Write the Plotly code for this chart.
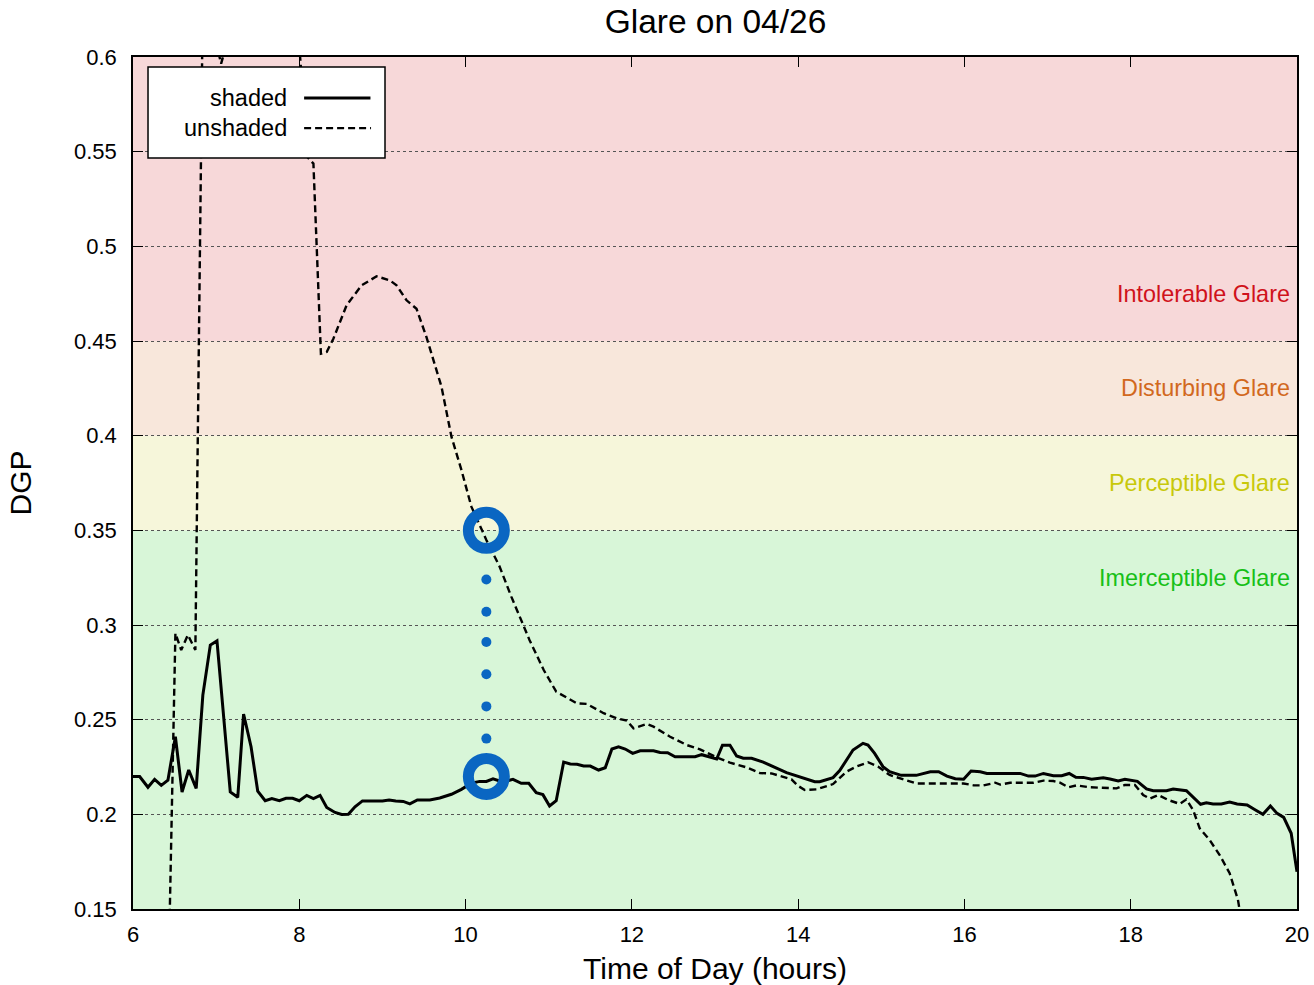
import plotly.graph_objects as go

# shaded DGP readings (hour of day, value)
shaded_hours = [6.0, 6.08, 6.18, 6.26, 6.34, 6.42, 6.51, 6.59, 6.67, 6.76,
                6.84, 6.93, 7.01, 7.09, 7.17, 7.26, 7.33, 7.42, 7.50, 7.59,
                7.67, 7.76, 7.84, 7.92, 8.0, 8.09, 8.17, 8.25, 8.33, 8.43,
                8.51, 8.59, 8.67, 8.76, 9.0, 9.08, 9.16, 9.25, 9.33, 9.42,
                9.57, 9.69, 9.83, 9.95, 10.07, 10.17, 10.25, 10.33, 10.41, 10.49,
                10.57, 10.67, 10.76, 10.85, 10.93, 11.01, 11.09, 11.18, 11.26, 11.34,
                11.42, 11.50, 11.60, 11.68, 11.76, 11.84, 11.92, 12.01, 12.10, 12.26,
                12.34, 12.43, 12.52, 12.76, 12.84, 13.02, 13.09, 13.18, 13.26, 13.34,
                13.44, 13.58, 13.68, 13.76, 13.86, 14.0, 14.10, 14.20, 14.26, 14.42,
                14.50, 14.58, 14.66, 14.78, 14.84, 14.92, 15.02, 15.10, 15.24, 15.42,
                15.59, 15.69, 15.79, 15.89, 15.99, 16.08, 16.19, 16.27, 16.67, 16.77,
                16.85, 16.95, 17.07, 17.17, 17.26, 17.34, 17.43, 17.53, 17.67, 17.75,
                17.85, 17.93, 18.08, 18.19, 18.27, 18.43, 18.51, 18.67, 18.75, 18.84,
                18.91, 18.99, 19.09, 19.19, 19.28, 19.40, 19.50, 19.59, 19.68, 19.76,
                19.84, 19.93, 20.0]
shaded_dgp = [0.220, 0.220, 0.2143, 0.2185, 0.2153, 0.218, 0.241, 0.2118, 0.2234, 0.2137,
              0.263, 0.2894, 0.2916, 0.2533, 0.2118, 0.209, 0.253, 0.2357, 0.2123, 0.2072,
              0.2083, 0.2072, 0.2085, 0.2085, 0.2072, 0.210, 0.2083, 0.210, 0.2036, 0.201,
              0.1999, 0.200, 0.204, 0.2071, 0.2071, 0.2076, 0.207, 0.2068, 0.2055, 0.2076,
              0.2076, 0.2086, 0.2106, 0.2132, 0.2164, 0.2174, 0.2174, 0.2187, 0.2176, 0.2176,
              0.2185, 0.2164, 0.2164, 0.2114, 0.2104, 0.2044, 0.2072, 0.2276, 0.2266, 0.2264,
              0.2255, 0.2255, 0.2234, 0.2246, 0.2345, 0.2356, 0.2345, 0.2322, 0.2336, 0.2336,
              0.2327, 0.2325, 0.2304, 0.2304, 0.2315, 0.2292, 0.2365, 0.2365, 0.2308, 0.2296,
              0.2296, 0.2276, 0.2254, 0.224, 0.222, 0.2199, 0.2187, 0.2172, 0.2172, 0.2194,
              0.2231, 0.2287, 0.234, 0.2375, 0.2366, 0.2322, 0.2252, 0.2225, 0.2206, 0.2206,
              0.2225, 0.2225, 0.2202, 0.2188, 0.2185, 0.2229, 0.2225, 0.2216, 0.2216, 0.2202,
              0.2202, 0.2216, 0.2204, 0.2204, 0.2216, 0.2196, 0.2195, 0.2185, 0.2193, 0.2187,
              0.2176, 0.2185, 0.2174, 0.2134, 0.2125, 0.2125, 0.2134, 0.2125, 0.2093, 0.2053,
              0.2061, 0.2055, 0.2055, 0.2065, 0.2055, 0.2049, 0.2023, 0.2000, 0.2044, 0.2005,
              0.1984, 0.1900, 0.1697]

# unshaded DGP readings
unshaded_hours = [6.42, 6.51, 6.58, 6.66, 6.75, 6.84, 6.92, 7.01, 7.06, 7.12,
                  7.17, 7.26, 7.42, 7.59, 7.76, 7.92, 8.01, 8.10, 8.17, 8.26, 8.33,
                  8.41, 8.57, 8.75, 8.93, 9.09, 9.17, 9.29, 9.41, 9.53, 9.65,
                  9.71, 9.83, 9.95, 10.07, 10.25, 10.41, 10.55, 10.77, 10.94, 11.09,
                  11.34, 11.46, 11.66, 11.82, 11.94, 12.02, 12.18, 12.26, 12.46, 12.66,
                  12.82, 13.02, 13.18, 13.38, 13.54, 13.68, 13.92, 14.0, 14.08, 14.22,
                  14.42, 14.58, 14.70, 14.84, 14.96, 15.10, 15.26, 15.42, 15.99, 16.11,
                  16.23, 16.37, 16.43, 16.55, 16.83, 16.95, 17.07, 17.15, 17.25, 17.35,
                  17.51, 17.83, 17.93, 18.05, 18.15, 18.23, 18.33, 18.45, 18.59, 18.67,
                  18.75, 18.83, 18.95, 19.07, 19.19, 19.29, 19.42]
unshaded_dgp = [0.10, 0.2956, 0.2868, 0.2947, 0.2868, 0.632, 0.622, 0.606, 0.5965, 0.606,
                0.616, 0.622, 0.625, 0.625, 0.622, 0.618, 0.60, 0.547, 0.5437, 0.4433, 0.4442,
                0.4512, 0.469, 0.4794, 0.4842, 0.482, 0.4794, 0.4715, 0.467, 0.452, 0.4338,
                0.4259, 0.3995, 0.3819, 0.3625, 0.3449, 0.3308, 0.315, 0.292, 0.2762, 0.2648,
                0.2586, 0.2583, 0.2534, 0.2507, 0.2495, 0.2454, 0.2477, 0.2463, 0.241, 0.2366,
                0.2343, 0.2301, 0.2273, 0.2248, 0.2218, 0.2216, 0.2185, 0.215, 0.2129, 0.2132,
                0.216, 0.2225, 0.2252, 0.2275, 0.2252, 0.2208, 0.2185, 0.2163, 0.2163, 0.2153,
                0.2153, 0.2167, 0.2157, 0.2167, 0.2167, 0.2178, 0.2176, 0.2167, 0.2143, 0.2153,
                0.2143, 0.2137, 0.2155, 0.2155, 0.2102, 0.2083, 0.2102, 0.2076, 0.2055, 0.2079,
                0.2023, 0.1926, 0.1864, 0.1785, 0.1689, 0.1548, 0.12]

# highlighted drop at ~10:15
mark_hours = [10.25, 10.25]
mark_dgp = [0.35, 0.22]
dot_hours = [10.25, 10.25, 10.25, 10.25, 10.25, 10.25]
dot_dgp = [0.324, 0.307, 0.291, 0.274, 0.257, 0.240]

# glare bands
band_low = [0.15, 0.35, 0.40, 0.45]
band_high = [0.35, 0.40, 0.45, 0.60]
band_names = ["Imerceptible Glare", "Perceptible Glare", "Disturbing Glare", "Intolerable Glare"]
band_label_y = [0.325, 0.375, 0.425, 0.475]
band_fill = ["#d8f6d8", "#f6f6da", "#f8e7db", "#f7d8d9"]
band_text = ["#17c017", "#c8c80a", "#d2691e", "#d0121b"]

blue = "#0a66c2"
font = "Liberation Sans, Arial, sans-serif"
dashed = "7px,4px"

fig = go.Figure()

fig.add_trace(go.Scatter(x=shaded_hours, y=shaded_dgp, mode="lines", name="shaded",
                         line=dict(color="black", width=3), showlegend=False))
fig.add_trace(go.Scatter(x=unshaded_hours, y=unshaded_dgp, mode="lines", name="unshaded",
                         line=dict(color="black", width=2.4, dash=dashed), showlegend=False))
fig.add_trace(go.Scatter(x=dot_hours, y=dot_dgp, mode="markers", showlegend=False,
                         marker=dict(color=blue, size=10)))
fig.add_trace(go.Scatter(x=mark_hours, y=mark_dgp, mode="markers", showlegend=False,
                         marker=dict(symbol="circle-open", color=blue, size=36,
                                     line=dict(color=blue, width=11))))

shapes = []
for lo, hi, col in zip(band_low, band_high, band_fill):
    shapes.append(dict(type="rect", xref="x domain", yref="y", x0=0, x1=1, y0=lo, y1=hi,
                       fillcolor=col, line=dict(width=0), layer="below"))

# legend box drawn by hand so the sample sits right of the text
shapes.append(dict(type="rect", xref="paper", yref="paper", x0=0.0129, x1=0.2165,
                   y0=0.8815, y1=0.9883, fillcolor="white",
                   line=dict(color="black", width=1.5), layer="above"))
shapes.append(dict(type="line", xref="paper", yref="paper", x0=0.147, x1=0.204,
                   y0=0.952, y1=0.952, line=dict(color="black", width=3), layer="above"))
shapes.append(dict(type="line", xref="paper", yref="paper", x0=0.147, x1=0.2045,
                   y0=0.9165, y1=0.9165, line=dict(color="black", width=2.2, dash=dashed),
                   layer="above"))

annotations = []
for name, y, col in zip(band_names, band_label_y, band_text):
    annotations.append(dict(text=name, xref="paper", yref="y", x=0.9955, y=y,
                            xanchor="right", yanchor="middle", showarrow=False,
                            font=dict(family=font, size=23.4, color=col)))
annotations.append(dict(text="shaded", xref="paper", yref="paper", x=0.134, y=0.952,
                        xanchor="right", yanchor="middle", showarrow=False,
                        font=dict(family=font, size=23.5, color="black")))
annotations.append(dict(text="unshaded", xref="paper", yref="paper", x=0.134, y=0.9165,
                        xanchor="right", yanchor="middle", showarrow=False,
                        font=dict(family=font, size=23.5, color="black")))

fig.update_layout(
    width=1314, height=985,
    margin=dict(l=133, r=17, t=57, b=76),
    paper_bgcolor="white", plot_bgcolor="white",
    font=dict(family=font, size=22, color="black"),
    title=dict(text="Glare on 04/26", x=0.5445, xanchor="center", y=0.978, yanchor="middle",
               font=dict(family=font, size=33.5, color="black")),
    shapes=shapes, annotations=annotations,
    xaxis=dict(range=[6, 20], dtick=2, tick0=6, showgrid=False, zeroline=False,
               showline=True, linecolor="black", linewidth=1.5, mirror="ticks",
               ticks="inside", ticklen=10, tickcolor="black", ticklabelstandoff=5,
               automargin=False,
               title=dict(text="Time of Day (hours)", standoff=13,
                          font=dict(family=font, size=30))),
    yaxis=dict(range=[0.15, 0.6], dtick=0.05, tick0=0.15, showgrid=True,
               gridcolor="#555555", griddash="dot", gridwidth=1, zeroline=False,
               showline=True, linecolor="black", linewidth=1.5, mirror="ticks",
               ticks="inside", ticklen=10, tickcolor="black", ticklabelstandoff=10,
               automargin=False,
               title=dict(text="DGP", standoff=34, font=dict(family=font, size=30))),
)

# drop the browser's default body margin so the figure sits at the page origin
fig.write_html("out.html", config={"displayModeBar": False},
               post_script="document.body.style.margin='0';")
